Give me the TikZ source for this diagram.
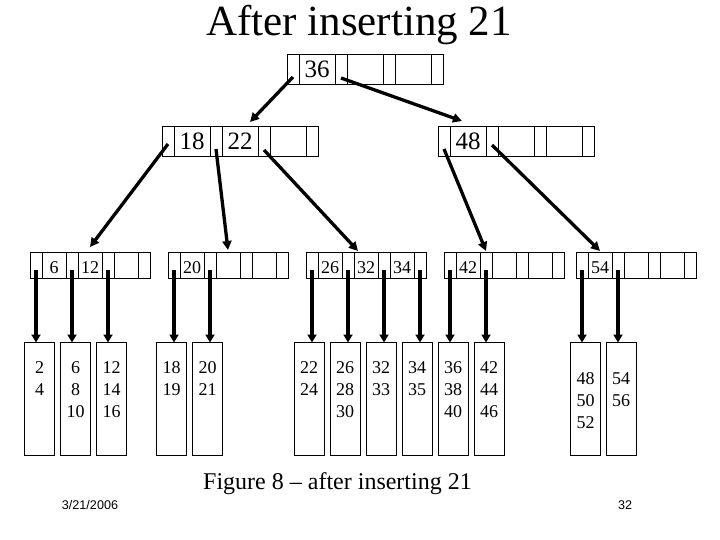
\documentclass[tikz,border=0pt]{standalone}
\usepackage{fontspec}
\setmainfont{Liberation Serif}
\newfontfamily\footfont{Liberation Sans}
\usetikzlibrary{arrows.meta}
\def\pw{12pt}\def\kw{36pt}\def\ch{30pt}
\newcommand{\bnode}[6]{%
  \node[cell, minimum width=\pw, anchor=north west] (#1p1) at (#2,#3) {};
  \node[cell, minimum width=\kw, anchor=north west] (#1k1) at (#1p1.north east) {#4};
  \node[cell, minimum width=\pw, anchor=north west] (#1p2) at (#1k1.north east) {};
  \node[cell, minimum width=\kw, anchor=north west] (#1k2) at (#1p2.north east) {#5};
  \node[cell, minimum width=\pw, anchor=north west] (#1p3) at (#1k2.north east) {};
  \node[cell, minimum width=\kw, anchor=north west] (#1k3) at (#1p3.north east) {#6};
  \node[cell, minimum width=\pw, anchor=north west] (#1p4) at (#1k3.north east) {};
}
\tikzset{
  cell/.style={draw, line width=0.8pt, rectangle, inner sep=0pt, outer sep=0pt, minimum height=\ch},
  leaf/.style={draw, line width=0.8pt, rectangle, inner sep=0pt, outer sep=0pt, minimum width=30pt, minimum height=113pt, anchor=north west},
  leaftxt/.style={anchor=north, inner sep=0pt, align=center, font=\fontsize{18}{21.7}\selectfont},
  conn/.style={line width=3.3pt, -{Triangle[length=9pt,width=9pt]}},
  vconn/.style={line width=3.8pt, -{Triangle[length=8pt,width=9pt]}},
}
\begin{document}
\begin{tikzpicture}[x=1pt,y=-1pt]
\useasboundingbox (0,0) rectangle (720,540);
\node[anchor=base, font=\fontsize{43}{43}\selectfont, inner sep=0pt] (title) at (359,36) {After inserting 21};
% upper levels
\begin{scope}[every node/.append style={font=\fontsize{25}{25}\selectfont, text height=18pt, text depth=0pt}]
\bnode{R}{287}{54}{36}{}{}
\bnode{L}{162}{126}{18}{22}{}
\bnode{T}{438}{126}{48}{}{}
\end{scope}
% level 3
\def\kw{24pt}\def\ch{26pt}
\begin{scope}[every node/.append style={font=\fontsize{18}{18}\selectfont, text height=16.5pt, text depth=0pt}]
\bnode{A}{30}{252}{6}{12}{}
\bnode{B}{168}{252}{20}{}{}
\bnode{C}{306}{252}{26}{32}{34}
\bnode{D}{444}{252}{42}{}{}
\bnode{E}{576}{252}{54}{}{}
\end{scope}
% leaves
\node[leaf] (l1) at (24.5,342.5) {};
\node[leaf] (l2) at (60.5,342.5) {};
\node[leaf] (l3) at (96.5,342.5) {};
\node[leaf] (l4) at (156.5,342.5) {};
\node[leaf] (l5) at (192.5,342.5) {};
\node[leaf] (l6) at (294,342.5) {};
\node[leaf] (l7) at (330,342.5) {};
\node[leaf] (l8) at (366,342.5) {};
\node[leaf] (l9) at (402,342.5) {};
\node[leaf] (l10) at (438,342.5) {};
\node[leaf] (l11) at (474,342.5) {};
\node[leaf] (l12) at (570.5,342.5) {};
\node[leaf] (l13) at (606,342.5) {};
\node[leaftxt] (t1) at ([yshift=-19pt]l1.north) {2\\4};
\node[leaftxt] (t2) at ([yshift=-19pt]l2.north) {6\\8\\10};
\node[leaftxt] (t3) at ([yshift=-19pt]l3.north) {12\\14\\16};
\node[leaftxt] (t4) at ([yshift=-19pt]l4.north) {18\\19};
\node[leaftxt] (t5) at ([yshift=-19pt]l5.north) {20\\21};
\node[leaftxt] (t6) at ([yshift=-19pt]l6.north) {22\\24};
\node[leaftxt] (t7) at ([yshift=-19pt]l7.north) {26\\28\\30};
\node[leaftxt] (t8) at ([yshift=-19pt]l8.north) {32\\33};
\node[leaftxt] (t9) at ([yshift=-19pt]l9.north) {34\\35};
\node[leaftxt] (t10) at ([yshift=-19pt]l10.north) {36\\38\\40};
\node[leaftxt] (t11) at ([yshift=-19pt]l11.north) {42\\44\\46};
\node[leaftxt] (t12) at ([yshift=-30pt]l12.north) {48\\50\\52};
\node[leaftxt] (t13) at ([yshift=-30pt]l13.north) {54\\56};
% connectors between levels
\draw[conn] ([yshift=-8pt]Rp1.center) -- ([xshift=-8pt,yshift=4pt]Lk2.north east);
\draw[conn] ([yshift=-9pt]Rp2.center) -- ([xshift=12pt,yshift=5pt]Tk1.north west);
\draw[conn] ([yshift=-3pt]Lp1.center) -- ([yshift=5pt]Ak2.north);
\draw[conn] ([yshift=-8pt]Lp2.center) -- ([yshift=2pt]Bk2.north);
\draw[conn] ([yshift=-9pt]Lp3.center) -- ([xshift=4pt,yshift=1pt]Ck2.north west);
\draw[conn] ([yshift=-8pt]Tp1.center) -- ([yshift=1pt]Dp2.north);
\draw[conn] ([yshift=-4pt]Tp2.center) -- ([yshift=1pt]Ek1.north);
% to leaves
\draw[vconn] ([yshift=-5pt]Ap1.center) -- (Ap1.center |- l1.north);
\draw[vconn] ([yshift=-5pt]Ap2.center) -- (Ap2.center |- l2.north);
\draw[vconn] ([yshift=-5pt]Ap3.center) -- (Ap3.center |- l3.north);
\draw[vconn] ([yshift=-5pt]Bp1.center) -- (Bp1.center |- l4.north);
\draw[vconn] ([yshift=-5pt]Bp2.center) -- (Bp2.center |- l5.north);
\draw[vconn] ([yshift=-5pt]Cp1.center) -- (Cp1.center |- l6.north);
\draw[vconn] ([yshift=-5pt]Cp2.center) -- (Cp2.center |- l7.north);
\draw[vconn] ([yshift=-5pt]Cp3.center) -- (Cp3.center |- l8.north);
\draw[vconn] ([yshift=-5pt]Cp4.center) -- (Cp4.center |- l9.north);
\draw[vconn] ([yshift=-5pt]Dp1.center) -- (Dp1.center |- l10.north);
\draw[vconn] ([yshift=-5pt]Dp2.center) -- (Dp2.center |- l11.north);
\draw[vconn] ([yshift=-5pt]Ep1.center) -- (Ep1.center |- l12.north);
\draw[vconn] ([yshift=-5pt]Ep2.center) -- (Ep2.center |- l13.north);
% captions
\node[anchor=base, inner sep=0pt, font=\fontsize{24}{24}\selectfont] (cap) at (337.5,489) {Figure 8 – after inserting 21};
\node[anchor=base, inner sep=0pt, font=\footfont\fontsize{12.6}{12.6}\selectfont] (date) at (90,509) {3/21/2006};
\node[anchor=base, inner sep=0pt, font=\footfont\fontsize{12.6}{12.6}\selectfont] (page) at (625,509) {32};
\end{tikzpicture}
\end{document}
